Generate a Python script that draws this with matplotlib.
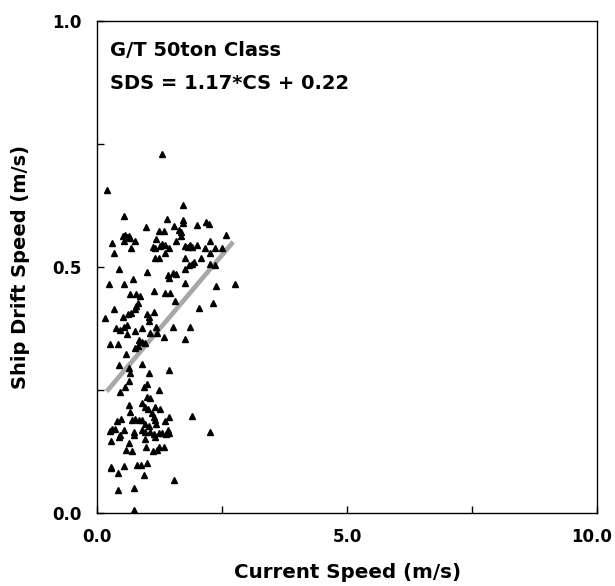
import matplotlib
matplotlib.use("Agg")
import matplotlib.pyplot as plt

plt.rcParams['font.family'] = ['DejaVu Sans']

# current speed (m/s) / ship drift speed (m/s)
current_speed = [
    1.29, 0.19, 1.71, 0.54, 1.39, 1.71, 1.71, 2.17, 2.24, 1.99, 0.98, 1.54,
    1.23, 1.33, 1.63, 1.68, 0.52, 0.56, 0.60, 0.64, 0.66, 2.58, 1.68, 0.75,
    0.29, 0.54, 1.17, 1.57, 2.26, 1.29, 1.36, 1.26, 1.76, 1.85, 1.81, 1.99,
    1.11, 1.15, 1.44, 1.89, 2.16, 2.36, 2.49, 0.67, 0.34, 1.36, 2.26, 1.16,
    1.23, 1.75, 2.08, 1.83, 1.89, 1.93, 2.26, 2.36, 0.43, 0.99, 1.75,
    1.41, 1.51, 1.58, 1.44, 0.23, 0.54, 0.71, 1.75, 2.37, 2.76, 1.13, 0.65,
    0.77, 0.85, 1.36, 1.46, 1.55, 2.31, 0.81, 0.77, 0.75, 2.03, 0.34, 0.68,
    0.61, 0.99, 1.04, 1.13, 0.51, 0.16, 1.03, 0.59, 0.53, 0.46, 0.37, 0.89,
    0.75, 1.17, 1.51, 1.86, 0.59, 1.06, 1.19, 1.34, 0.83, 0.89, 0.96, 1.75,
    0.26, 0.41, 0.76, 0.81, 0.57, 0.43, 0.89, 1.44, 0.63, 0.66, 1.03, 0.63,
    0.99, 0.93, 0.56,
    0.46, 1.24, 0.99, 1.06, 0.64, 0.89, 0.96, 1.01, 1.16, 1.26, 0.65, 1.09,
    1.13, 1.16, 1.89, 0.48, 0.39, 0.69, 0.76, 0.83, 0.89, 1.44, 1.35, 0.96,
    1.03, 1.18, 0.29, 0.26, 0.36, 0.53, 0.73, 0.89, 0.95, 1.06, 1.13, 1.41,
    1.43, 1.37, 2.25, 1.23, 1.29, 0.46, 0.44, 0.73, 1.15, 0.28, 0.95, 0.63,
    1.23, 1.33, 1.19, 0.97, 0.58, 0.69, 1.11, 0.79, 0.88, 0.99, 0.27, 0.27,
    0.53, 0.41, 0.93, 1.53, 0.41, 0.73, 0.73,
]
drift_speed = [
    0.730, 0.657, 0.625, 0.604, 0.597, 0.596, 0.590, 0.591, 0.587, 0.585, 0.581, 0.584,
    0.574, 0.574, 0.575, 0.572, 0.562, 0.566, 0.560, 0.563, 0.558, 0.566, 0.562, 0.553,
    0.548, 0.553, 0.556, 0.553, 0.553, 0.547, 0.545, 0.543, 0.543, 0.545, 0.540, 0.545,
    0.540, 0.538, 0.538, 0.540, 0.538, 0.538, 0.538, 0.538, 0.528, 0.528, 0.528, 0.518,
    0.518, 0.518, 0.518, 0.504, 0.506, 0.511, 0.506, 0.504, 0.495, 0.490, 0.495,
    0.484, 0.487, 0.486, 0.477, 0.465, 0.465, 0.476, 0.468, 0.461, 0.465, 0.451, 0.445,
    0.445, 0.441, 0.448, 0.448, 0.431, 0.427, 0.427, 0.421, 0.414, 0.416, 0.414, 0.407,
    0.404, 0.404, 0.398, 0.409, 0.398, 0.396, 0.391, 0.382, 0.379, 0.372, 0.375, 0.375,
    0.369, 0.379, 0.379, 0.379, 0.364, 0.365, 0.366, 0.357, 0.352, 0.348, 0.346, 0.353,
    0.343, 0.343, 0.335, 0.339, 0.323, 0.301, 0.303, 0.291, 0.294, 0.284, 0.284, 0.269,
    0.262, 0.257, 0.257,
    0.245, 0.249, 0.235, 0.233, 0.220, 0.224, 0.215, 0.211, 0.215, 0.211, 0.206, 0.203,
    0.196, 0.190, 0.197, 0.192, 0.186, 0.190, 0.192, 0.190, 0.189, 0.195, 0.186, 0.181,
    0.177, 0.181, 0.170, 0.167, 0.170, 0.169, 0.165, 0.169, 0.165, 0.165, 0.161, 0.169,
    0.163, 0.161, 0.165, 0.163, 0.162, 0.159, 0.154, 0.159, 0.154, 0.147, 0.150, 0.143,
    0.135, 0.135, 0.128, 0.134, 0.129, 0.125, 0.125, 0.098, 0.098, 0.102, 0.093, 0.091,
    0.096, 0.081, 0.077, 0.068, 0.047, 0.050, 0.006,
]

# regression line as drawn in the figure
fit_x = [0.19, 2.72]
fit_y = [0.247, 0.551]

fig = plt.figure(figsize=(6.15, 5.86), dpi=100)
ax = fig.add_axes([0.158, 0.1246, 0.813, 0.8396])

ax.plot(fit_x, fit_y, color='#a8a8a8', linewidth=3.4, solid_capstyle='butt', zorder=2)
ax.plot(current_speed, drift_speed, linestyle='none', marker='^', markersize=3.8,
        color='black', zorder=3)

ax.set_xlim(0, 10)
ax.set_ylim(0, 1)
ax.set_xticks([0, 2.5, 5, 7.5, 10])
ax.set_xticklabels(['0.0', '', '5.0', '', ''])
ax.set_yticks([0, 0.25, 0.5, 0.75, 1.0])
ax.set_yticklabels(['0.0', '', '0.5', '', '1.0'])
ax.tick_params(direction='in', length=5, width=1, labelsize=12)
ax.tick_params(axis='x', pad=11)
ax.tick_params(axis='y', pad=11)
for lab in ax.get_xticklabels() + ax.get_yticklabels():
    lab.set_fontweight('bold')
for sp in ax.spines.values():
    sp.set_linewidth(1.0)

# last x tick label sits a little inside the figure edge
ax.annotate('10.0', xy=(1, 0), xycoords='axes fraction', xytext=(-4, -10.8),
            textcoords='offset points', ha='center', va='top',
            fontsize=12, fontweight='bold')

ax.set_xlabel('Current Speed (m/s)', fontsize=14.3, fontweight='bold', labelpad=12)
ax.set_ylabel('Ship Drift Speed (m/s)', fontsize=14, fontweight='bold', labelpad=16)

ax.text(0.026, 0.941, 'G/T 50ton Class', transform=ax.transAxes, fontsize=14,
        fontweight='bold', va='center', ha='left')
ax.text(0.026, 0.872, 'SDS = 1.17*CS + 0.22', transform=ax.transAxes, fontsize=14,
        fontweight='bold', va='center', ha='left')

fig.savefig('out.png', dpi=100)
